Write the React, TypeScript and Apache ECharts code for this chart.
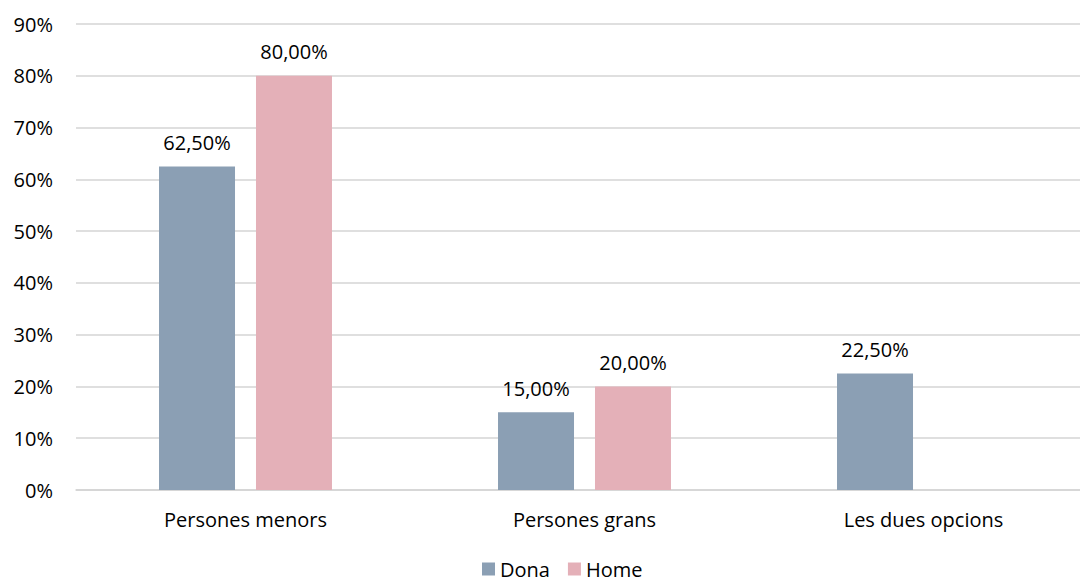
import React, { useEffect, useRef } from "react";
import * as echarts from "echarts";

const categories = ["Persones menors", "Persones grans", "Les dues opcions"];
const donaValues: (number | null)[] = [62.5, 15.0, 22.5];
const homeValues: (number | null)[] = [80.0, 20.0, null];
const seriesNames = ["Dona", "Home"];
const yTicks = [0, 10, 20, 30, 40, 50, 60, 70, 80, 90];

const FONT = "'Open Sans', sans-serif";
const fmtPct = (v: number) => v.toFixed(2).replace(".", ",") + "%";

export default function App() {
  const ref = useRef<HTMLDivElement>(null);
  useEffect(() => {
    document.body.style.margin = "0";
    const chart = echarts.init(ref.current!, null, { renderer: "svg" });
    const labelCfg = {
      show: true,
      position: "top" as const,
      distance: 14,
      color: "#000",
      fontFamily: FONT,
      fontSize: 20,
      formatter: (p: any) => fmtPct(p.value),
    };
    chart.setOption({
      animation: false,
      textStyle: { fontFamily: FONT },
      grid: {
        left: 76,
        width: 1017,
        top: 24,
        bottom: 92,
        containLabel: false,
        outerBoundsMode: "none",
      },
      legend: {
        data: seriesNames,
        left: 477,
        top: 554,
        icon: "rect",
        itemWidth: 13,
        itemHeight: 13,
        itemGap: 18,
        textStyle: { color: "#000", fontFamily: FONT, fontSize: 20 },
      },
      xAxis: {
        type: "category",
        data: categories,
        axisLine: { show: true, lineStyle: { color: "#d4d4d4", width: 1.5 } },
        axisTick: { show: false },
        axisLabel: { color: "#000", fontFamily: FONT, fontSize: 20, margin: 19 },
      },
      yAxis: {
        type: "value",
        min: yTicks[0],
        max: yTicks[yTicks.length - 1],
        interval: 10,
        axisLine: { show: false },
        axisTick: { show: false },
        axisLabel: {
          color: "#000",
          fontFamily: FONT,
          fontSize: 20,
          margin: 23,
          formatter: (v: number) => v + "%",
        },
        splitLine: { lineStyle: { color: "#d4d4d4", width: 1.5 } },
      },
      series: [
        {
          name: seriesNames[0],
          type: "bar",
          data: donaValues,
          barWidth: 76,
          barGap: "27.6%",
          itemStyle: { color: "#8B9FB4" },
          label: labelCfg,
        },
        {
          name: seriesNames[1],
          type: "bar",
          data: homeValues,
          barWidth: 76,
          barGap: "27.6%",
          itemStyle: { color: "#E4B0B8" },
          label: labelCfg,
        },
      ],
    });
    return () => chart.dispose();
  }, []);
  return <div ref={ref} style={{ width: 1080, height: 582 }} />;
}
